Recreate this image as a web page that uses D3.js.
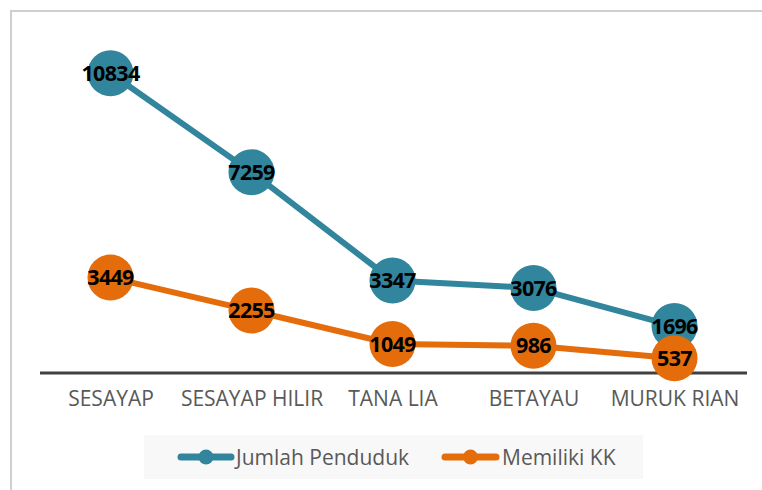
<!DOCTYPE html>
<html>
<head>
<meta charset="utf-8">
<script src="https://cdn.jsdelivr.net/npm/d3@7"></script>
<style>
  html, body { margin: 0; padding: 0; background: #fff; }
  svg { display: block; }
</style>
</head>
<body>
<svg id="chart" width="762" height="490"></svg>
<script>
const categories = ["SESAYAP", "SESAYAP HILIR", "TANA LIA", "BETAYAU", "MURUK RIAN"];
const jumlahPenduduk = [10834, 7259, 3347, 3076, 1696];
const memilikiKK = [3449, 2255, 1049, 986, 537];
const seriesNames = ["Jumlah Penduduk", "Memiliki KK"];
const seriesColors = ["#31859C", "#E46C0A"];

const series = [
  { name: seriesNames[0], values: jumlahPenduduk, color: seriesColors[0] },
  { name: seriesNames[1], values: memilikiKK, color: seriesColors[1] }
];

const svg = d3.select("#chart");

// outer border (cropped chart frame)
svg.append("path")
  .attr("d", "M11,500 L11,11 L770,11")
  .attr("fill", "none")
  .attr("stroke", "#cfcfcf")
  .attr("stroke-width", 2);

const x = d3.scalePoint().domain(categories).range([110.5, 674.5]);
const y = d3.scaleLinear().domain([0, 12000]).range([373, 41]);

// x axis
const xAxis = svg.append("g")
  .attr("transform", `translate(0,${y(0)})`)
  .call(d3.axisBottom(x).tickSize(0).tickPadding(18));
xAxis.select(".domain").remove();
xAxis.append("line")
  .attr("x1", 40).attr("x2", 747)
  .attr("y1", 0).attr("y2", 0)
  .attr("stroke", "#404040")
  .attr("stroke-width", 3);
xAxis.selectAll(".tick text")
  .attr("font-family", "'Open Sans', sans-serif")
  .attr("font-size", 21)
  .attr("fill", "#595959");

const line = d3.line()
  .x((d, i) => x(categories[i]))
  .y(d => y(d));

series.forEach(s => {
  const g = svg.append("g");
  g.append("path")
    .datum(s.values)
    .attr("d", line)
    .attr("fill", "none")
    .attr("stroke", s.color)
    .attr("stroke-width", 6)
    .attr("stroke-linejoin", "round");
  g.selectAll("circle")
    .data(s.values)
    .join("circle")
    .attr("cx", (d, i) => x(categories[i]))
    .attr("cy", d => y(d))
    .attr("r", 23)
    .attr("fill", s.color);
});

// labels on top
series.forEach(s => {
  svg.append("g").selectAll("text")
    .data(s.values)
    .join("text")
    .attr("x", (d, i) => x(categories[i]))
    .attr("y", d => y(d))
    .attr("dy", "0.36em")
    .attr("text-anchor", "middle")
    .attr("font-family", "'Open Sans', sans-serif")
    .attr("font-weight", 700)
    .attr("font-size", 21.5)
    .attr("letter-spacing", -0.7)
    .attr("fill", "#000")
    .text(d => d);
});

// legend
const legend = svg.append("g");
legend.append("rect")
  .attr("x", 144).attr("y", 435)
  .attr("width", 499).attr("height", 44)
  .attr("fill", "#f8f8f8");

const legendItems = [
  { x1: 181, x2: 231, tx: 236 },
  { x1: 445, x2: 496, tx: 502 }
];
series.forEach((s, i) => {
  const it = legendItems[i];
  legend.append("line")
    .attr("x1", it.x1).attr("x2", it.x2)
    .attr("y1", 457).attr("y2", 457)
    .attr("stroke", s.color)
    .attr("stroke-width", 7)
    .attr("stroke-linecap", "round");
  legend.append("circle")
    .attr("cx", (it.x1 + it.x2) / 2).attr("cy", 457)
    .attr("r", 7.5)
    .attr("fill", s.color);
  legend.append("text")
    .attr("x", it.tx).attr("y", 464.5)
    .attr("font-family", "'Open Sans', sans-serif")
    .attr("font-size", 21)
    .attr("fill", "#595959")
    .text(s.name);
});
</script>
</body>
</html>
